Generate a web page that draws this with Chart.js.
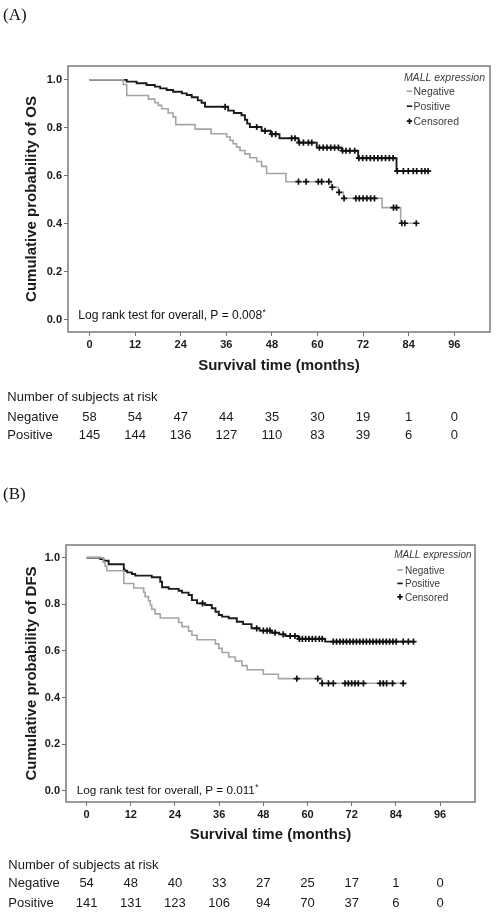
<!DOCTYPE html>
<html lang="en">
<head>
<meta charset="UTF-8">
<title>MALL expression - Kaplan-Meier curves</title>
<script src="https://cdn.jsdelivr.net/npm/chart.js@4"></script>
<style>
  * { margin: 0; padding: 0; box-sizing: border-box; }
  body { width: 496px; height: 912px; background: #fff; position: relative; overflow: hidden; }
  canvas { position: absolute; left: 0; }
  .panel-label {
    position: absolute; left: 3px;
    font: 17px/17px 'Liberation Serif', 'Times New Roman', serif;
    color: #111;
  }
</style>
</head>
<body>
<canvas id="chartA" width="496" height="456" style="top:0"></canvas>
<canvas id="chartB" width="496" height="456" style="top:456px"></canvas>
<div class="panel-label" style="top:6px">(A)</div>
<div class="panel-label" style="top:485px">(B)</div>

<script>
const timeTicks = [0, 12, 24, 36, 48, 60, 72, 84, 96];
const probTicks = [0, 0.2, 0.4, 0.6, 0.8, 1.0];
const riskGroups = ['Negative', 'Positive'];

// (A) overall survival - [month, survival after the drop]
const osNegEvents = [
  [8.9, 0.981], [9.8, 0.935], [15.5, 0.920], [17.2, 0.905], [18.1, 0.894], [19.0, 0.880],
  [20.7, 0.862], [22.0, 0.846], [22.7, 0.814], [27.8, 0.795], [32.0, 0.776], [36.1, 0.762],
  [37.0, 0.748], [37.8, 0.734], [38.7, 0.720], [39.6, 0.706], [40.9, 0.692], [42.2, 0.676],
  [44.0, 0.660], [45.3, 0.640], [46.6, 0.610], [51.7, 0.576], [63.7, 0.553], [65.5, 0.532],
  [66.8, 0.507], [77.0, 0.468], [81.9, 0.403]
];
const osNegCensored = [55.0, 57.0, 60.2, 61.1, 63.0, 63.9, 65.7, 67.0, 70.1, 71.0, 72.0, 73.0,
  74.0, 75.0, 80.0, 80.8, 82.2, 83.0, 86.0];
const osPosEvents = [
  [9.8, 0.993], [12.4, 0.986], [15.0, 0.979], [17.2, 0.972], [18.6, 0.965], [20.3, 0.958],
  [22.0, 0.951], [24.3, 0.944], [25.6, 0.937], [26.9, 0.928], [28.5, 0.915], [29.5, 0.905],
  [30.4, 0.888], [36.5, 0.872], [38.0, 0.862], [40.0, 0.853], [40.9, 0.834], [41.5, 0.818],
  [42.2, 0.804], [45.3, 0.788], [47.7, 0.774], [50.0, 0.757], [55.0, 0.739], [59.8, 0.718],
  [66.4, 0.705], [70.7, 0.674], [80.8, 0.620]
];
const osPosCensored = [35.7, 44.0, 46.2, 48.0, 49.0, 53.2, 54.1, 55.2, 56.3, 57.6, 58.5, 60.5,
  61.5, 62.5, 63.5, 64.5, 65.5, 66.6, 67.5, 68.5, 69.8, 70.9, 71.9, 72.9, 73.9, 74.9, 75.9,
  76.9, 77.9, 78.9, 79.9, 81.0, 82.6, 83.9, 85.2, 86.1, 87.4, 88.3, 89.1];
const osRiskNeg = [58, 54, 47, 44, 35, 30, 19, 1, 0];
const osRiskPos = [145, 144, 136, 127, 110, 83, 39, 6, 0];

// (B) disease-free survival
const dfsNegEvents = [
  [4.6, 0.981], [5.0, 0.963], [5.5, 0.944], [10.1, 0.889], [12.8, 0.870], [15.5, 0.852],
  [15.9, 0.833], [16.8, 0.815], [17.3, 0.796], [17.7, 0.778], [18.6, 0.759], [20.0, 0.741],
  [25.0, 0.722], [25.9, 0.704], [27.7, 0.685], [28.6, 0.667], [30.0, 0.648], [35.0, 0.630],
  [35.9, 0.611], [36.8, 0.593], [38.6, 0.574], [40.4, 0.556], [42.2, 0.537], [43.6, 0.519],
  [48.0, 0.500], [52.1, 0.481], [63.9, 0.461]
];
const dfsNegCensored = [57.1, 62.8, 64.0, 65.7, 67.0, 70.2, 71.1, 72.0, 72.9, 73.8, 75.2,
  79.7, 80.6, 81.5, 83.1, 86.0];
const dfsPosEvents = [
  [3.7, 0.994], [4.6, 0.987], [6.0, 0.972], [10.1, 0.951], [10.3, 0.944], [11.0, 0.937],
  [12.3, 0.930], [13.2, 0.923], [17.7, 0.916], [20.0, 0.897], [20.5, 0.873], [22.3, 0.866],
  [25.0, 0.858], [25.9, 0.850], [27.7, 0.840], [28.6, 0.818], [30.0, 0.804], [32.2, 0.797],
  [34.0, 0.783], [35.0, 0.768], [35.9, 0.754], [36.8, 0.747], [38.6, 0.740], [40.8, 0.725],
  [42.5, 0.715], [44.8, 0.697], [47.0, 0.687], [50.3, 0.678], [52.3, 0.671], [54.0, 0.664],
  [57.5, 0.652], [64.8, 0.640]
];
const dfsPosCensored = [31.5, 46.2, 48.0, 49.0, 49.8, 51.2, 53.4, 55.3, 56.6, 57.8, 58.6,
  59.5, 60.4, 61.3, 62.2, 63.2, 64.0, 67.0, 67.9, 68.8, 69.7, 70.6, 71.5, 72.4, 73.3, 74.2,
  75.1, 76.0, 76.9, 77.8, 78.7, 79.6, 80.5, 81.4, 82.3, 83.2, 84.1, 86.0, 87.4, 88.8];
const dfsRiskNeg = [54, 48, 40, 33, 27, 25, 17, 1, 0];
const dfsRiskPos = [141, 131, 123, 106, 94, 70, 37, 6, 0];

const FONT = "'Liberation Sans', Arial, Helvetica, sans-serif";
const NEG_COLOR = '#a5a5a5';
const POS_COLOR = '#1c1c1c';
const TEXT_COLOR = '#1a1a1a';

Chart.defaults.font.family = FONT;
Chart.defaults.color = TEXT_COLOR;

// step curve: starts at 1.0, ends at the last censored case
function stepPoints(events, endTime) {
  const pts = [{ x: 0, y: 1 }];
  events.forEach(([t, s]) => pts.push({ x: t, y: s }));
  pts.push({ x: endTime, y: events[events.length - 1][1] });
  return pts;
}

function levelAt(events, t) {
  let s = 1;
  events.forEach(([et, es]) => { if (et <= t) s = es; });
  return s;
}

function censorPoints(events, times) {
  return times.map(t => ({ x: t, y: levelAt(events, t) }));
}

const kmDecor = {
  id: 'kmDecor',
  afterDraw(chart, args, o) {
    const { ctx, chartArea: a } = chart;
    const xs = chart.scales.x;
    ctx.save();

    // frame
    ctx.strokeStyle = '#7a7a7a';
    ctx.lineWidth = 1.5;
    ctx.strokeRect(a.left, a.top, a.right - a.left, a.bottom - a.top);

    // legend in the upper right corner
    const lg = o.legend;
    ctx.textBaseline = 'alphabetic';
    ctx.fillStyle = '#3a3a3a';
    ctx.textAlign = 'right';
    ctx.font = `italic ${lg.size}px ${FONT}`;
    ctx.fillText('MALL expression', lg.right, lg.rows[0]);
    ctx.textAlign = 'left';
    ctx.font = `${lg.size}px ${FONT}`;
    const items = [['Negative', NEG_COLOR, false], ['Positive', POS_COLOR, false], ['Censored', '#111', true]];
    items.forEach(([label, color, cross], i) => {
      const base = lg.rows[i + 1];
      const my = base - lg.size * 0.36;
      ctx.strokeStyle = color;
      ctx.lineWidth = 1.7;
      ctx.beginPath();
      ctx.moveTo(lg.markX - 2.7, my);
      ctx.lineTo(lg.markX + 2.7, my);
      if (cross) {
        ctx.moveTo(lg.markX, my - 2.8);
        ctx.lineTo(lg.markX, my + 2.8);
      }
      ctx.stroke();
      ctx.fillStyle = '#3a3a3a';
      ctx.fillText(label, lg.textX, base);
    });

    // log rank note
    const nt = o.note;
    ctx.fillStyle = '#111';
    ctx.font = `${nt.size}px ${FONT}`;
    ctx.fillText(nt.text, nt.x, nt.y);
    const w = ctx.measureText(nt.text).width;
    ctx.font = `${nt.size * 0.7}px ${FONT}`;
    ctx.fillText('*', nt.x + w + 0.5, nt.y - nt.size * 0.3);

    // number at risk, lined up with the time ticks
    const rk = o.risk;
    ctx.font = `${rk.size}px ${FONT}`;
    ctx.fillStyle = TEXT_COLOR;
    ctx.fillText('Number of subjects at risk', rk.labelX, rk.rows[0]);
    riskGroups.forEach((g, i) => ctx.fillText(g, rk.labelX, rk.rows[i + 1]));
    ctx.textAlign = 'center';
    rk.counts.forEach((row, i) => {
      row.forEach((n, j) => ctx.fillText(String(n), xs.getPixelForValue(timeTicks[j]), rk.rows[i + 1]));
    });
    ctx.restore();
  }
};

function makeChart(id, p) {
  const tickGrid = { display: true, drawOnChartArea: false, drawTicks: true, tickLength: 4, color: '#6e6e6e', lineWidth: 1 };
  return new Chart(document.getElementById(id), {
    type: 'line',
    data: {
      datasets: [
        { data: stepPoints(p.negEvents, p.negCensored[p.negCensored.length - 1]), borderColor: NEG_COLOR,
          borderWidth: 1.6, stepped: true, pointRadius: 0, fill: false, order: 2 },
        { data: stepPoints(p.posEvents, p.posCensored[p.posCensored.length - 1]), borderColor: POS_COLOR,
          borderWidth: 1.9, stepped: true, pointRadius: 0, fill: false, order: 2 },
        { data: censorPoints(p.negEvents, p.negCensored), showLine: false, pointStyle: 'cross',
          pointRadius: 3.1, pointBorderColor: '#111', pointBorderWidth: 1.7, order: 1 },
        { data: censorPoints(p.posEvents, p.posCensored), showLine: false, pointStyle: 'cross',
          pointRadius: 3.1, pointBorderColor: '#111', pointBorderWidth: 1.7, order: 1 }
      ]
    },
    options: {
      responsive: false,
      animation: false,
      devicePixelRatio: 1,
      events: [],
      layout: { padding: p.padding },
      plugins: {
        legend: { display: false },
        tooltip: { enabled: false },
        kmDecor: { legend: p.legend, note: p.note, risk: p.risk }
      },
      scales: {
        x: {
          type: 'linear', min: p.xMin, max: p.xMax,
          afterBuildTicks: s => { s.ticks = timeTicks.map(v => ({ value: v })); },
          afterFit: s => { s.height = 45; },
          grid: tickGrid,
          border: { display: false },
          ticks: { font: { size: 11, weight: 'bold' }, color: TEXT_COLOR, padding: 2.5, maxRotation: 0, autoSkip: false },
          title: { display: true, text: 'Survival time (months)', color: TEXT_COLOR,
                   font: { size: 15, weight: 'bold' }, padding: { top: 0, bottom: p.xTitlePad } }
        },
        y: {
          type: 'linear', min: p.yMin, max: p.yMax,
          afterBuildTicks: s => { s.ticks = probTicks.map(v => ({ value: v })); },
          afterFit: s => { s.width = p.yWidth; },
          grid: tickGrid,
          border: { display: false },
          ticks: { font: { size: 11, weight: 'bold' }, color: TEXT_COLOR, padding: 2, callback: v => v.toFixed(1) },
          title: { display: true, text: p.yTitle, color: TEXT_COLOR,
                   font: { size: 15, weight: 'bold' }, padding: { top: p.yTitlePad, bottom: 0 } }
        }
      }
    },
    plugins: [kmDecor]
  });
}

makeChart('chartA', {
  negEvents: osNegEvents, negCensored: osNegCensored,
  posEvents: osPosEvents, posCensored: osPosCensored,
  xMin: -5.66, xMax: 105.4, yMin: -0.05, yMax: 1.058,
  padding: { top: 66, right: 6, bottom: 79, left: 0 },
  yWidth: 68, yTitlePad: 23, xTitlePad: 2,
  yTitle: 'Cumulative probability of OS',
  legend: { size: 10.5, right: 485, markX: 409.5, textX: 413.5, rows: [80.5, 95, 110, 125] },
  note: { size: 12, x: 78.3, y: 319, text: 'Log rank test for overall, P = 0.008' },
  risk: { size: 13, labelX: 7.3, rows: [400.5, 420.7, 439.3], counts: [osRiskNeg, osRiskPos] }
});

makeChart('chartB', {
  negEvents: dfsNegEvents, negCensored: dfsNegCensored,
  posEvents: dfsPosEvents, posCensored: dfsPosCensored,
  xMin: -5.6, xMax: 105.5, yMin: -0.0485, yMax: 1.0545,
  padding: { top: 89, right: 21, bottom: 65, left: 0 },
  yWidth: 66, yTitlePad: 22.7, xTitlePad: 3,
  yTitle: 'Cumulative probability of DFS',
  legend: { size: 10, right: 471.5, markX: 400, textX: 405, rows: [102.3, 117.5, 131, 144.5] },
  note: { size: 11.7, x: 76.7, y: 338, text: 'Log rank test for overall, P = 0.011' },
  risk: { size: 13, labelX: 8.3, rows: [413.3, 431.3, 450.7], counts: [dfsRiskNeg, dfsRiskPos] }
});
</script>
</body>
</html>
